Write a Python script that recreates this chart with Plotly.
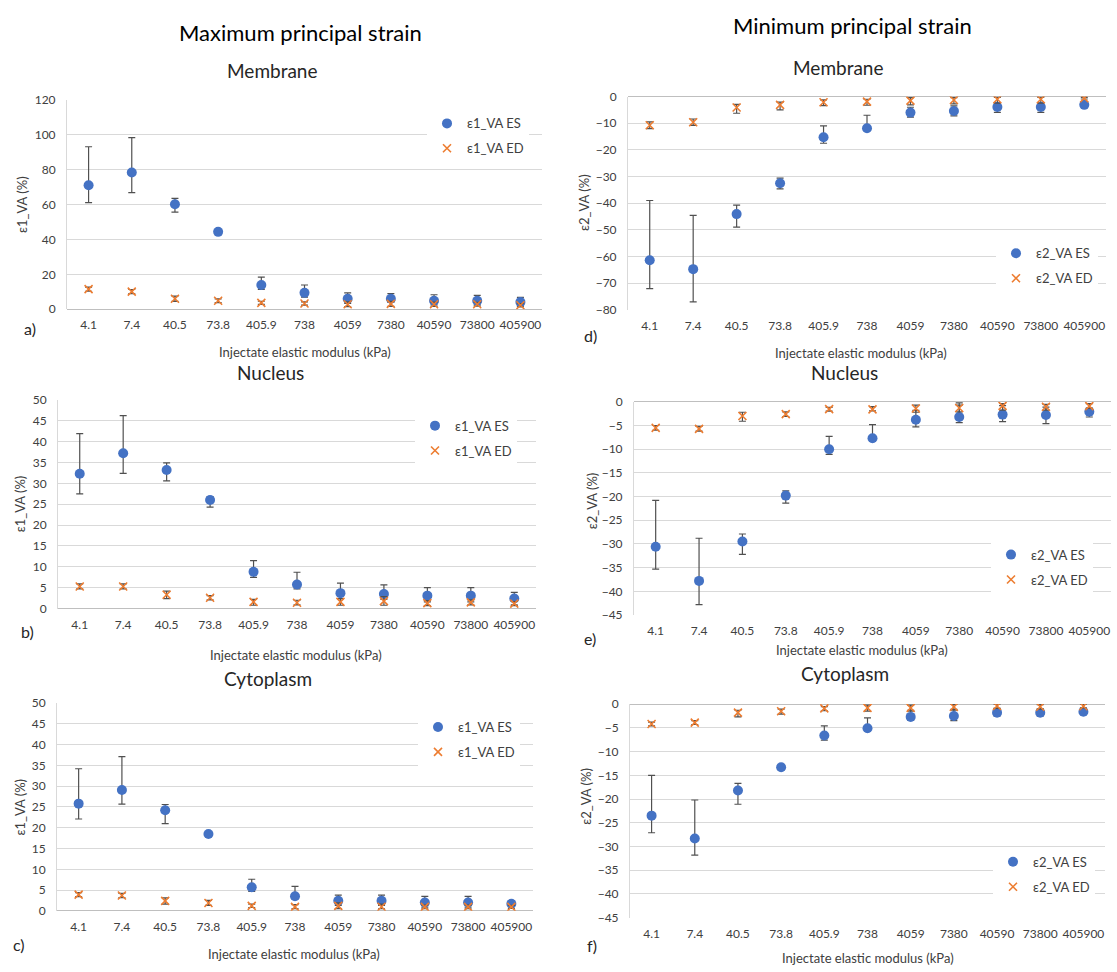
import plotly.graph_objects as go

W, H = 1117, 972

# ---------------- data ----------------
categories = ["4.1", "7.4", "40.5", "73.8", "405.9", "738", "4059", "7380", "40590", "73800", "405900"]

# a) Membrane, max principal strain (%)
mem_e1_es = [71.0, 78.3, 60.1, 44.3, 13.9, 9.4, 6.0, 6.0, 4.9, 4.9, 4.1]
mem_e1_es_hi = [93.0, 98.2, 63.5, 45.2, 18.4, 13.9, 9.4, 9.0, 8.3, 8.0, 6.8]
mem_e1_es_lo = [61.0, 66.7, 55.6, 43.3, 11.3, 7.0, 3.4, 4.0, 2.5, 2.5, 2.0]
mem_e1_ed = [11.5, 10.1, 6.0, 4.9, 3.7, 3.3, 2.9, 3.1, 2.9, 2.9, 2.3]
mem_e1_ed_hi = [12.7, 11.3, 7.5, 6.0, 4.6, 4.2, 4.3, 4.5, 4.1, 4.0, 3.2]
mem_e1_ed_lo = [10.3, 8.9, 4.5, 3.8, 2.8, 2.4, 1.5, 1.7, 1.7, 1.8, 1.4]

# b) Nucleus, max principal strain (%)
nuc_e1_es = [32.3, 37.2, 33.2, 26.0, 8.8, 5.75, 3.7, 3.5, 3.1, 3.1, 2.4]
nuc_e1_es_hi = [41.9, 46.2, 34.9, 26.8, 11.5, 8.7, 6.1, 5.7, 5.0, 5.0, 3.9]
nuc_e1_es_lo = [27.5, 32.4, 30.6, 24.3, 7.5, 4.7, 2.4, 2.2, 1.6, 1.6, 0.9]
nuc_e1_ed = [5.3, 5.3, 3.3, 2.6, 1.6, 1.4, 1.6, 1.8, 1.3, 1.5, 1.2]
nuc_e1_ed_hi = [5.9, 5.9, 4.2, 3.1, 2.2, 2.0, 2.4, 2.9, 1.9, 2.1, 1.7]
nuc_e1_ed_lo = [4.7, 4.7, 2.4, 2.1, 0.8, 0.9, 0.8, 0.8, 0.7, 0.9, 0.7]

# c) Cytoplasm, max principal strain (%)
cyt_e1_es = [25.8, 29.1, 24.2, 18.5, 5.7, 3.5, 2.4, 2.4, 2.0, 2.0, 1.7]
cyt_e1_es_hi = [34.2, 37.1, 25.6, 19.0, 7.6, 5.9, 3.8, 3.8, 3.5, 3.5, 2.4]
cyt_e1_es_lo = [22.1, 25.7, 21.0, 18.0, 4.7, 2.9, 1.3, 1.3, 0.9, 0.9, 1.1]
cyt_e1_ed = [3.9, 3.7, 2.4, 1.9, 1.2, 0.95, 1.2, 1.0, 0.95, 0.95, 0.95]
cyt_e1_ed_hi = [4.4, 4.2, 3.1, 2.5, 1.6, 1.5, 1.9, 1.6, 1.4, 1.4, 1.3]
cyt_e1_ed_lo = [3.4, 3.2, 1.6, 1.3, 0.8, 0.55, 0.55, 0.5, 0.5, 0.5, 0.6]

# d) Membrane, min principal strain (%)
mem_e2_es = [-61.4, -64.75, -44.1, -32.5, -15.25, -11.9, -6.0, -5.4, -3.9, -3.9, -3.1]
mem_e2_es_hi = [-39.0, -44.6, -40.75, -30.6, -11.0, -7.0, -4.0, -3.5, -2.25, -2.25, -1.9]
mem_e2_es_lo = [-72.1, -77.0, -49.0, -34.6, -17.5, -12.5, -7.75, -7.25, -5.9, -5.9, -4.0]
mem_e2_ed = [-10.75, -9.6, -4.1, -3.1, -2.1, -1.9, -1.5, -1.25, -1.0, -1.0, -0.6]
mem_e2_ed_hi = [-9.5, -8.4, -2.9, -2.1, -1.25, -1.0, -0.4, -0.4, -0.25, -0.3, -0.25]
mem_e2_ed_lo = [-12.0, -10.8, -6.25, -5.0, -3.4, -3.25, -3.1, -2.75, -2.5, -2.5, -0.9]

# e) Nucleus, min principal strain (%)
nuc_e2_es = [-30.6, -37.8, -29.5, -19.8, -10.0, -7.7, -3.8, -3.2, -2.7, -2.8, -2.1]
nuc_e2_es_hi = [-20.8, -28.8, -27.9, -18.8, -7.3, -4.8, -1.8, -0.7, -0.8, -1.1, -1.3]
nuc_e2_es_lo = [-35.3, -42.8, -32.2, -21.4, -11.1, -8.3, -5.3, -4.4, -4.2, -4.6, -3.2]
nuc_e2_ed = [-5.5, -5.7, -3.0, -2.6, -1.55, -1.6, -1.4, -1.3, -0.85, -1.05, -0.9]
nuc_e2_ed_hi = [-5.0, -5.2, -2.2, -2.1, -1.15, -1.0, -0.7, -0.2, -0.35, -0.55, -0.4]
nuc_e2_ed_lo = [-6.0, -6.2, -4.1, -3.1, -1.95, -1.9, -2.2, -2.1, -1.75, -1.75, -1.4]

# f) Cytoplasm, min principal strain (%)
cyt_e2_es = [-23.5, -28.3, -18.2, -13.3, -6.6, -5.1, -2.7, -2.5, -1.8, -1.8, -1.6]
cyt_e2_es_hi = [-15.0, -20.2, -16.7, -12.8, -4.6, -2.9, -1.3, -1.1, -0.9, -1.0, -1.1]
cyt_e2_es_lo = [-27.1, -31.8, -21.1, -13.8, -7.6, -5.5, -3.4, -3.5, -2.5, -2.5, -2.1]
cyt_e2_ed = [-4.2, -3.9, -1.8, -1.5, -0.9, -0.8, -0.8, -0.6, -0.4, -0.55, -0.45]
cyt_e2_ed_hi = [-3.8, -3.5, -1.3, -1.05, -0.55, -0.2, -0.2, -0.05, 0.0, -0.1, 0.0]
cyt_e2_ed_lo = [-4.6, -4.3, -2.7, -2.1, -1.4, -1.5, -1.5, -1.3, -0.9, -1.05, -0.8]

# ---------------- layout helpers ----------------
FONT = "Lato"
BLUE = "#4472C4"
ORANGE = "#ED7D31"
ERR = "#505050"
GRID = "#D9D9D9"
TXT = "#404040"


def fx(p):
    return p / W


def fy(p):
    return 1 - p / H


panels = [
    dict(n=1, es=(mem_e1_es, mem_e1_es_hi, mem_e1_es_lo), ed=(mem_e1_ed, mem_e1_ed_hi, mem_e1_ed_lo),
         px=(67, 542), py=(93, 306), yr=[0, 120], dt=20, lab="ε1", leg=(427, 102),
         ytitle=(22, 200), xtitle=(305, 349), sub=("Membrane", 272, 63), letter=("a)", 30, 326)),
    dict(n=2, es=(nuc_e1_es, nuc_e1_es_hi, nuc_e1_es_lo), ed=(nuc_e1_ed, nuc_e1_ed_hi, nuc_e1_ed_lo),
         px=(58, 536), py=(398, 610), yr=[0, 50], dt=5, lab="ε1", leg=(415, 409),
         ytitle=(20, 504), xtitle=(296, 657), sub=("Nucleus", 270, 370), letter=("b)", 27, 633)),
    dict(n=3, es=(cyt_e1_es, cyt_e1_es_hi, cyt_e1_es_lo), ed=(cyt_e1_ed, cyt_e1_ed_hi, cyt_e1_ed_lo),
         px=(57, 533), py=(706, 917), yr=[0, 50], dt=5, lab="ε1", leg=(418, 715),
         ytitle=(20, 812), xtitle=(294, 961), sub=("Cytoplasm", 268, 681), letter=("c)", 19, 951)),
    dict(n=4, es=(mem_e2_es, mem_e2_es_hi, mem_e2_es_lo), ed=(mem_e2_ed, mem_e2_ed_hi, mem_e2_ed_lo),
         px=(628, 1106), py=(90, 306.5), yr=[-80, 0], dt=10, lab="ε2", leg=(996, 234),
         ytitle=(584, 198), xtitle=(861, 350), sub=("Membrane", 838, 60), letter=("d)", 590, 333)),
    dict(n=5, es=(nuc_e2_es, nuc_e2_es_hi, nuc_e2_es_lo), ed=(nuc_e2_ed, nuc_e2_ed_hi, nuc_e2_ed_lo),
         px=(634, 1111), py=(400, 616.5), yr=[-45, 0], dt=5, lab="ε2", leg=(991, 540),
         ytitle=(592, 501), xtitle=(862, 652), sub=("Nucleus", 844, 370), letter=("e)", 590, 640)),
    dict(n=6, es=(cyt_e2_es, cyt_e2_es_hi, cyt_e2_es_lo), ed=(cyt_e2_ed, cyt_e2_ed_hi, cyt_e2_ed_lo),
         px=(630, 1105), py=(707, 924), yr=[-45, 0], dt=5, lab="ε2", leg=(993, 852),
         ytitle=(586, 801), xtitle=(868, 965), sub=("Cytoplasm", 845, 676), letter=("f)", 592, 952)),
]

fig = go.Figure()
annotations = []
layout = {}


def add_series(p, vals, name, marker, key):
    y, hi, lo = vals
    plus = [h - v for h, v in zip(hi, y)]
    minus = [v - l for v, l in zip(y, lo)]
    n = p["n"]
    fig.add_trace(go.Scatter(
        x=categories, y=y, mode="markers", name=name,
        xaxis="x" if n == 1 else f"x{n}", yaxis="y" if n == 1 else f"y{n}",
        legend="legend" if n == 1 else f"legend{n}", legendgroup=f"{key}{n}",
        marker=marker,
        error_y=dict(type="data", symmetric=False, array=plus, arrayminus=minus,
                     color=ERR, thickness=1.2, width=3.5),
        hoverinfo="x+y",
    ))


for p in panels:
    n = p["n"]
    sx = "" if n == 1 else str(n)
    add_series(p, p["es"], f"{p['lab']}_VA ES",
               dict(symbol="circle", size=10, color=BLUE), "es")
    add_series(p, p["ed"], f"{p['lab']}_VA ED",
               dict(symbol="x-thin", size=8, color=ORANGE, line=dict(color=ORANGE, width=1.6)), "ed")

    layout[f"xaxis{sx}"] = dict(
        domain=[fx(p["px"][0]), fx(p["px"][1])], anchor=f"y{sx}", type="category",
        range=[-0.5, 10.5], showgrid=False, showline=False, zeroline=False, ticks="",
        tickfont=dict(family=FONT, size=12, color=TXT), ticklabelstandoff=7, fixedrange=True,
    )
    layout[f"yaxis{sx}"] = dict(
        domain=[fy(p["py"][1]), fy(p["py"][0])], anchor=f"x{sx}", range=p["yr"], dtick=p["dt"],
        tick0=0, showgrid=True, gridcolor=GRID, gridwidth=1, zeroline=True, zerolinecolor="#BFBFBF",
        zerolinewidth=1, showline=True, linecolor=GRID, linewidth=1, ticks="",
        tickfont=dict(family=FONT, size=12, color=TXT), ticklabelstandoff=8, fixedrange=True,
    )
    legkey = "legend" if n == 1 else f"legend{n}"
    layout[legkey] = dict(
        x=fx(p["leg"][0]), y=fy(p["leg"][1]), xanchor="left", yanchor="top",
        bgcolor="white", borderwidth=0, font=dict(family=FONT, size=13, color=TXT),
        tracegroupgap=5, itemwidth=30,
    )

    annotations.append(dict(text=f"{p['lab']}_VA (%)", x=fx(p["ytitle"][0]), y=fy(p["ytitle"][1]),
                            textangle=-90, font=dict(family=FONT, size=13, color=TXT)))
    annotations.append(dict(text="Injectate elastic modulus (kPa)", x=fx(p["xtitle"][0]),
                            y=fy(p["xtitle"][1]), font=dict(family=FONT, size=13, color=TXT)))
    annotations.append(dict(text=p["sub"][0], x=fx(p["sub"][1]), y=fy(p["sub"][2]),
                            font=dict(family=FONT, size=19, color="#262626")))
    annotations.append(dict(text=p["letter"][0], x=fx(p["letter"][1]), y=fy(p["letter"][2]),
                            font=dict(family=FONT, size=16, color="#262626")))

annotations.append(dict(text="Maximum principal strain", x=fx(301), y=fy(25),
                        font=dict(family=FONT, size=22, color="black")))
annotations.append(dict(text="Minimum principal strain", x=fx(852), y=fy(18),
                        font=dict(family=FONT, size=22, color="black")))

for a in annotations:
    a.update(xref="paper", yref="paper", showarrow=False, xanchor="center", yanchor="middle")

fig.update_layout(
    width=W, height=H, margin=dict(l=0, r=0, t=0, b=0),
    paper_bgcolor="white", plot_bgcolor="white",
    annotations=annotations, showlegend=True,
    font=dict(family=FONT, color=TXT),
    **layout,
)

post = (
    "document.documentElement.style.margin='0';"
    "document.documentElement.style.overflow='hidden';"
    "document.body.style.margin='0';"
    "document.body.style.overflow='hidden';"
    "var gd=document.getElementById('{plot_id}');"
    "gd.style.position='absolute';gd.style.left='0px';gd.style.top='0px';"
)

fig.write_html("out.html", config={"displayModeBar": False}, post_script=post)
